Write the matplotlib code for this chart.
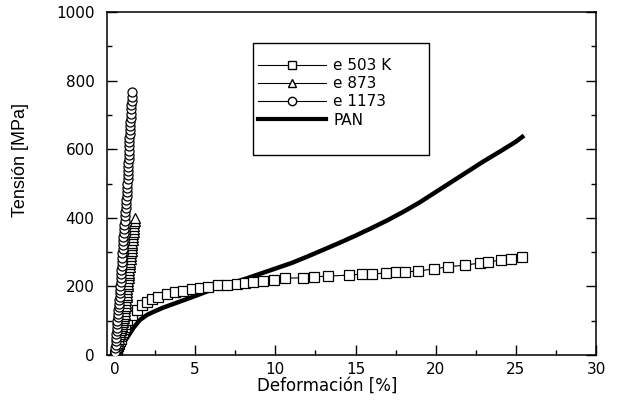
import numpy as np
import matplotlib
matplotlib.use('Agg')
import matplotlib.pyplot as plt
from matplotlib.lines import Line2D
from matplotlib.patches import Rectangle

plt.rcParams['font.family'] = ['DejaVu Sans']

# e 503 K (cuadrados)
x_503 = [0, 0.05, 0.1, 0.15, 0.2, 0.25, 0.3, 0.35, 0.4, 0.45, 0.5, 0.55, 0.6, 0.65, 0.75,
         1.06, 1.4, 1.7, 2.0, 2.3, 2.7, 3.25, 3.75, 4.25, 4.8, 5.3, 5.8, 6.4, 7.0, 7.6, 8.1,
         8.6, 9.25, 9.9, 10.6, 11.7, 12.4, 13.3, 14.6, 15.4, 16.0, 16.9, 17.5, 18.1, 18.9,
         19.9, 20.75, 21.8, 22.75, 23.25, 24.1, 24.7, 25.4]
y_503 = [0, 6, 12, 19, 26, 33, 40, 47, 55, 62, 68, 75, 82, 90, 102,
         117, 131, 146, 155, 163, 169, 178, 184, 187, 192, 195, 198, 204, 204, 207, 210,
         213, 216, 219, 224, 225, 228, 230, 233, 236, 236, 239, 242, 242, 245,
         251, 257, 262, 268, 271, 277, 280, 286]

# e 873 (triangulos)
x_873 = [0, 0.03, 0.06, 0.09, 0.12, 0.15, 0.18, 0.21, 0.24, 0.27, 0.30, 0.34, 0.37, 0.40,
         0.43, 0.46, 0.49, 0.52, 0.55, 0.58, 0.61,
         0.63, 0.65, 0.67, 0.69, 0.71, 0.72, 0.74, 0.76, 0.78, 0.80, 0.81, 0.83, 0.85, 0.87,
         0.89, 0.90, 0.92, 0.94, 0.96, 0.98, 0.99, 1.01, 1.03, 1.05, 1.07, 1.08, 1.10, 1.12,
         1.14, 1.16, 1.17, 1.19, 1.21, 1.23, 1.25]
y_873 = [0, 6, 12, 18, 24, 30, 36, 42, 48, 54, 60, 66, 72, 78,
         84, 90, 96, 102, 108, 114, 120,
         128, 136, 144, 152, 160, 168, 176, 184, 192, 200, 208, 216, 224, 232,
         240, 248, 256, 264, 272, 280, 288, 296, 304, 312, 320, 328, 336, 344,
         352, 360, 368, 376, 384, 392, 400]

# e 1173 (circulos)
x_1173 = [0, 0.015, 0.03, 0.045, 0.06, 0.075, 0.09, 0.10, 0.115,
          0.135, 0.155, 0.17, 0.19, 0.21, 0.23, 0.25, 0.27, 0.29, 0.31,
          0.32, 0.335,
          0.35, 0.365, 0.38, 0.395, 0.41, 0.43, 0.445, 0.46, 0.475, 0.49,
          0.51, 0.53, 0.55, 0.57, 0.59, 0.61, 0.63, 0.655, 0.675, 0.695, 0.715, 0.735, 0.755,
          0.765, 0.78, 0.79, 0.80, 0.815, 0.825, 0.835, 0.85, 0.86, 0.87, 0.885, 0.895, 0.905,
          0.92, 0.93, 0.94,
          0.96, 0.97, 0.985, 1.0, 1.015, 1.03, 1.045, 1.06]
y_1173 = [0, 10, 20, 30, 40, 50, 60, 70, 80,
          90, 100, 110, 120, 130, 140, 150, 160, 170, 180,
          190, 200,
          212, 224, 236, 248, 260, 272, 284, 296, 308, 320,
          332, 344, 356, 368, 380, 392, 404, 416, 428, 440, 452, 464, 476,
          488, 500, 512, 524, 536, 548, 560, 572, 584, 596, 608, 620, 632,
          644, 656, 668,
          680, 692, 704, 716, 728, 740, 752, 766]

# PAN
x_pan = [0, 0.3, 0.75, 1.15, 1.55, 2.0, 2.5, 3.0, 4.0, 5.0, 6.0, 7.0, 8.0, 9.0, 10.0, 11.0,
         12.0, 13.0, 14.0, 15.0, 16.0, 17.0, 18.0, 19.0, 20.0, 21.0, 22.0, 23.0, 24.0, 25.0, 25.4]
y_pan = [0, 23, 50, 79, 102, 117, 128, 138, 155, 172, 190, 205, 220, 236, 252, 268,
         287, 307, 327, 348, 370, 393, 418, 445, 475, 505, 535, 565, 593, 622, 636]

etiquetas = ['e 503 K', 'e 873', 'e 1173', 'PAN']

fig = plt.figure(figsize=(6.23, 4.01), dpi=100)
ax = fig.add_axes([0.1717, 0.1147, 0.785, 0.8553])

ax.plot(x_pan, y_pan, color='black', lw=3.2, zorder=2)
ax.plot(x_503, y_503, color='black', lw=0.8, marker='s', ms=6.5, mfc='white', mec='black', mew=0.9, zorder=3)
ax.plot(x_873, y_873, color='black', lw=0.8, marker='^', ms=7, mfc='white', mec='black', mew=0.9, zorder=3)
ax.plot(x_1173, y_1173, color='black', lw=0.8, marker='o', ms=6.5, mfc='white', mec='black', mew=0.9, zorder=4)

ax.set_xlim(-0.5, 30)
ax.set_ylim(0, 1000)
ax.set_xticks(np.arange(0, 31, 5))
ax.set_xticks(np.arange(0, 31, 2.5), minor=True)
ax.set_yticks(np.arange(0, 1001, 200))
ax.set_yticks(np.arange(0, 1001, 100), minor=True)
ax.tick_params(which='both', direction='in', top=False, right=True, labelsize=11)
ax.tick_params(which='major', length=7, width=1)
ax.tick_params(which='minor', length=3.5, width=1)
ax.tick_params(axis='y', pad=9)
ax.tick_params(axis='x', pad=5)
for s in ax.spines.values():
    s.set_linewidth(1.1)

ax.set_xlabel('Deformación [%]', fontsize=12)
ax.xaxis.set_label_coords(0.45, -0.062)
ax.set_ylabel('Tensión [MPa]', fontsize=13, family='Liberation Sans')
ax.yaxis.set_label_coords(-0.16, 0.569)

# caja de la leyenda
ax.add_patch(Rectangle((0.2986, 0.583), 0.36, 0.3266, transform=ax.transAxes,
                       facecolor='white', edgecolor='black', lw=1, zorder=5))
handles = [Line2D([], [], color='black', lw=0.8, marker='s', ms=6, mfc='white', mec='black'),
           Line2D([], [], color='black', lw=0.8, marker='^', ms=6, mfc='white', mec='black'),
           Line2D([], [], color='black', lw=0.8, marker='o', ms=6, mfc='white', mec='black'),
           Line2D([], [], color='black', lw=3)]
leg = ax.legend(handles, etiquetas, loc='upper left', bbox_to_anchor=(0.2986, 0.8805),
                frameon=False, fontsize=11, numpoints=1, handlelength=4.4,
                handletextpad=0.5, labelspacing=0.2, borderpad=0.35, borderaxespad=0)
leg.set_zorder(6)

fig.savefig('out.png', dpi=100)
